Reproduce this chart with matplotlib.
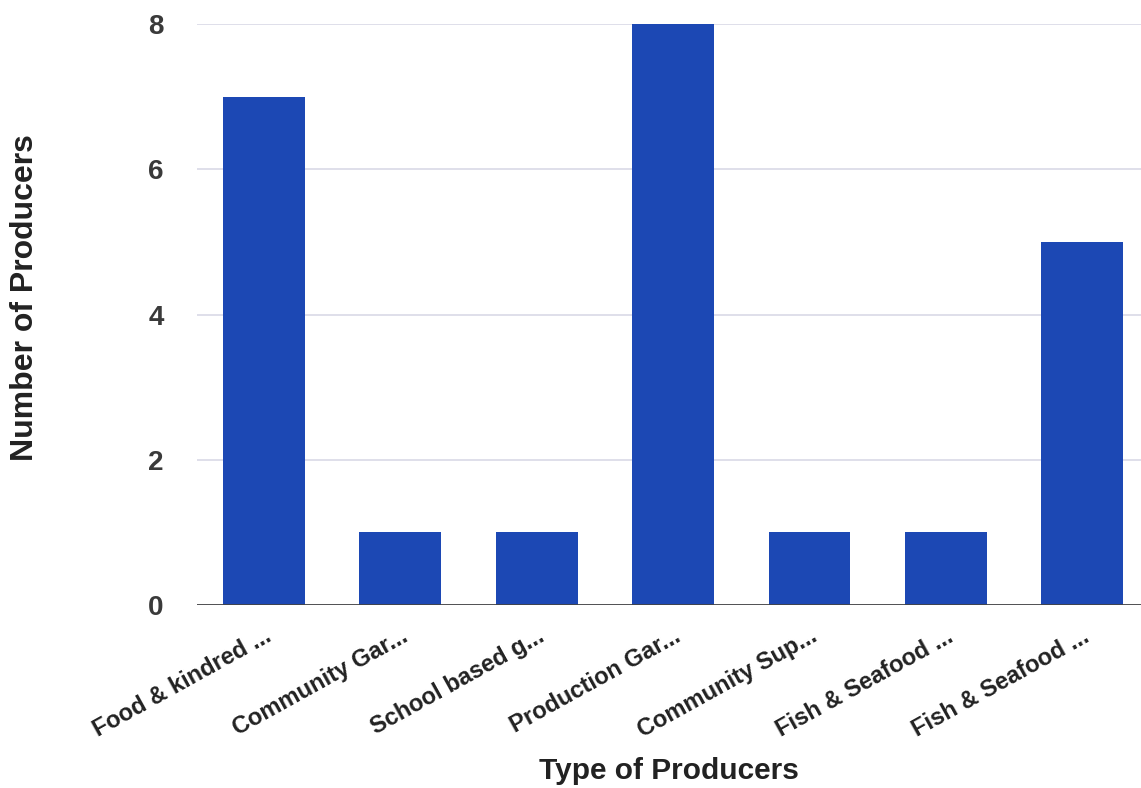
import matplotlib
matplotlib.use("Agg")
import matplotlib.pyplot as plt

categories = ["Food & kindred ...", "Community Gar...", "School based g...",
              "Production Gar...", "Community Sup...", "Fish & Seafood ...",
              "Fish & Seafood ..."]
counts = [7, 1, 1, 8, 1, 1, 5]
y_ticks = [0, 2, 4, 6, 8]

plt.rcParams['font.family'] = ['Liberation Sans', 'DejaVu Sans']

fig = plt.figure(figsize=(11.41, 7.88), dpi=100)
ax = fig.add_axes([0.1727, 0.2322, 0.8273, 0.7373])

x = list(range(len(categories)))
ax.bar(x, counts, width=0.6, color='#1c48b4', zorder=3)

ax.set_ylim(0, 8)
ax.set_xlim(-0.49, 6.43)
ax.set_yticks(y_ticks)
ax.set_yticklabels([str(v) for v in y_ticks], fontsize=20, fontweight='bold', color='#3a3a3a')
ax.yaxis.grid(True, color='#d9d9e6', linewidth=1.2, zorder=0)
ax.axhline(0, color='#444444', linewidth=2, zorder=4)

ax.set_xticks(x)
ax.set_xticklabels(categories, rotation=29, ha='right', rotation_mode='anchor',
                   fontsize=17, fontweight='bold', color='#222222')
ax.tick_params(axis='both', length=0)
ax.tick_params(axis='y', pad=24)
ax.tick_params(axis='x', pad=14)

for s in ax.spines.values():
    s.set_visible(False)

ax.set_ylabel("Number of Producers", fontsize=23, fontweight='bold', color='#222222')
ax.yaxis.set_label_coords(-0.166, 0.53)
ax.set_xlabel("Type of Producers", fontsize=21.5, fontweight='bold', labelpad=11, color='#222222')

fig.savefig("out.png", dpi=100)
